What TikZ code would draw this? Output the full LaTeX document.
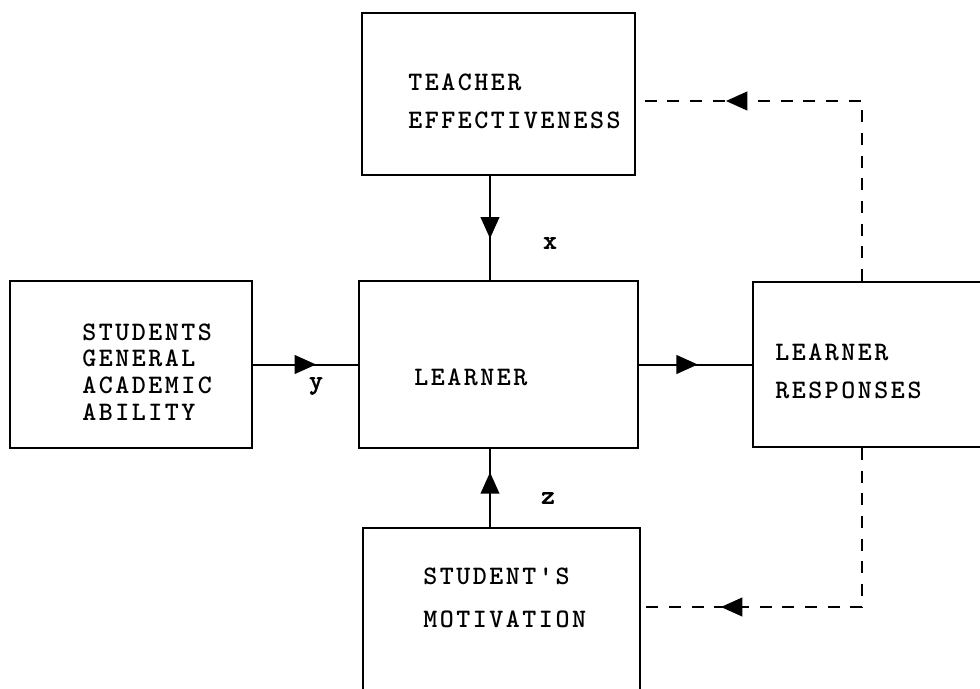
\documentclass[tikz,border=0pt]{standalone}
\usepackage{fontspec}
\setmonofont{lmmonolt10-bold.otf}[LetterSpace=9.5]
\newfontfamily\tagfont{lmmonolt10-bold.otf}[FakeBold=1.2]
\usetikzlibrary{arrows.meta,decorations.markings}
\begin{document}
\begin{tikzpicture}[x=0.75pt, y=-0.75pt,
  block/.style={draw, line width=1.4pt},
  boxtext/.style={anchor=west, align=left, inner sep=0pt, font=\ttfamily\fontsize{20}{28.5}\selectfont},
  tag/.style={font=\tagfont\fontsize{20}{20}\selectfont},
  feedback/.style={line width=1.5pt, dash pattern=on 9pt off 8pt},
  midarrow/.style={postaction={decorate}, decoration={markings,
    mark=at position #1 with {\arrow{Triangle[length=16pt,width=14pt]}}}}]
\useasboundingbox (0,0) rectangle (980,688);
% boxes
\node[block, minimum width=204.75pt, minimum height=121.5pt] (teacher) at (498.5,94) {};
\node[block, minimum width=209.25pt, minimum height=125.25pt] (learner) at (498.5,364.5) {};
\node[block, minimum width=181.5pt, minimum height=125.25pt] (ability) at (131,364.5) {};
\node[block, minimum width=181.5pt, minimum height=123.75pt] (resp) at (874,364.5) {};
\node[block, minimum width=207.75pt, minimum height=136.5pt] (motiv) at (501.5,619) {};
% box texts
\node[boxtext] (teachertxt) at (408,101) {TEACHER\\EFFECTIVENESS};
\node[boxtext] (learnertxt) at (414,377) {LEARNER};
\node[boxtext, font=\ttfamily\fontsize{20}{20}\selectfont] (abilitytxt) at (82,372) {STUDENTS\\GENERAL\\ACADEMIC\\ABILITY};
\node[boxtext] (resptxt) at (775,371) {LEARNER\\RESPONSES};
\node[boxtext, font=\ttfamily\fontsize{20}{32}\selectfont] (motivtxt) at (423,598) {STUDENT'S\\MOTIVATION};
\coordinate (vline) at (490,0);
\coordinate (dline) at (862,0);
\coordinate (topdash) at (0,101);
\coordinate (botdash) at (0,607);
% solid links
\draw[line width=1.5pt, midarrow=0.6] (teacher.south -| vline) -- (learner.north -| vline);
\draw[line width=1.5pt, midarrow=0.6] (ability.east) -- (learner.west);
\draw[line width=1.5pt, midarrow=0.7] (motiv.north -| vline) -- (learner.south -| vline);
\draw[line width=1.5pt, midarrow=0.52] (learner.east) -- (resp.west);
% dashed feedback
\draw[feedback, midarrow=-67.5pt] (resp.north -| dline) |- (teacher.east |- topdash);
\draw[feedback, midarrow=-60pt] (resp.south -| dline) |- (motiv.east |- botdash);
\node[tag] (x) at (550,243) {x};
\node[tag] (y) at (316,386) {y};
\node[tag] (z) at (548,498) {z};
\end{tikzpicture}
\end{document}
